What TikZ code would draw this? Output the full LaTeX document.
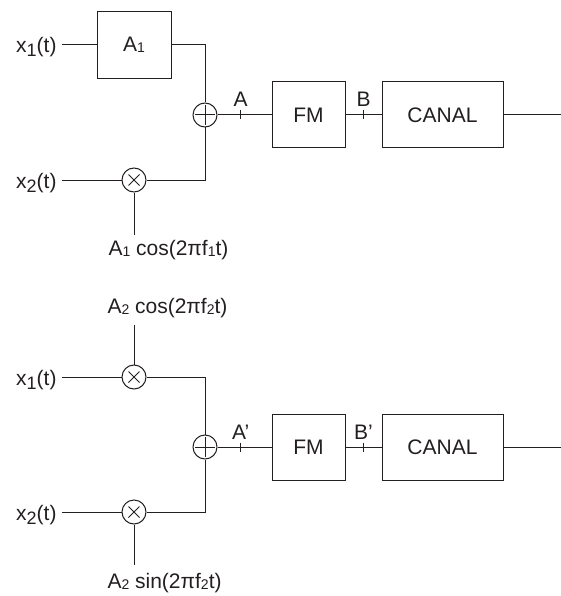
\documentclass[tikz,border=0pt]{standalone}
\usepackage{fontspec}
\setmainfont{Liberation Sans}
\usetikzlibrary{positioning}
\definecolor{ink}{HTML}{231F20}

\newcommand{\bsub}[1]{\raisebox{-4pt}{\fontsize{18}{18}\selectfont #1}}
\newcommand{\ssub}[1]{\raisebox{-1.5pt}{\fontsize{14}{14}\selectfont #1}}

\begin{document}
\begin{tikzpicture}[x=1pt,y=-1pt,line width=1pt,color=ink,
  font=\fontsize{21}{25}\selectfont,
  blk/.style={draw,minimum height=66pt,inner sep=0pt},
  sig/.style={inner sep=0pt},
  adder/.style={draw,circle,minimum size=24pt,inner sep=0pt,
    path picture={\draw ([yshift=-2pt]path picture bounding box.north) -- ([yshift=2pt]path picture bounding box.south)
      ([xshift=2pt]path picture bounding box.west) -- ([xshift=-2pt]path picture bounding box.east);}},
  mixer/.style={draw,circle,minimum size=24pt,inner sep=0pt,
    path picture={\draw ([shift={(-5.5pt,-5.5pt)}]path picture bounding box.center) -- ([shift={(5.5pt,5.5pt)}]path picture bounding box.center)
      ([shift={(-5.5pt,5.5pt)}]path picture bounding box.center) -- ([shift={(5.5pt,-5.5pt)}]path picture bounding box.center);}}]
  \useasboundingbox (0,0) rectangle (561,596);

  % upper branch: gain and mixer
  \node[sig,anchor=base east] (xa1) at (57,53) {x\bsub{1}(t)};
  \node[blk,minimum width=74pt,minimum height=67pt] (gain) at (134,45) {A\ssub{1}};
  \node[sig,anchor=base east] (xa2) at (57,188) {x\bsub{2}(t)};
  \node[mixer] (mix1) at (134,180) {};
  \node[sig,anchor=base west] (car1) at (108,255) {A\ssub{1} cos(2πf\ssub{1}t)};
  \node[adder] (sum1) at (205,115) {};
  \draw ([xshift=5pt]xa1.east |- gain) -- (gain);
  \draw (gain) -- (gain -| sum1) -- (sum1);
  \draw ([xshift=5pt]xa2.east |- mix1) -- (mix1);
  \draw (mix1) -- (mix1 -| sum1) -- (sum1);
  \draw (mix1) -- ([yshift=4pt]mix1 |- car1.north);

  % lower branch: quadrature mixers
  \node[sig,anchor=base west] (car2) at (107,313) {A\ssub{2} cos(2πf\ssub{2}t)};
  \node[sig,anchor=base east] (xb1) at (57,385) {x\bsub{1}(t)};
  \node[mixer] (mix2) at (134,377) {};
  \node[sig,anchor=base east] (xb2) at (57,520) {x\bsub{2}(t)};
  \node[mixer] (mix3) at (134,512) {};
  \node[sig,anchor=base west] (car3) at (107,588) {A\ssub{2} sin(2πf\ssub{2}t)};
  \node[adder] (sum2) at (205,447) {};
  \draw ([xshift=5pt]xb1.east |- mix2) -- (mix2);
  \draw ([xshift=5pt]xb2.east |- mix3) -- (mix3);
  \draw ([yshift=-7pt]mix2 |- car2.south) -- (mix2);
  \draw (mix3) -- ([yshift=7pt]mix3 |- car3.north);
  \draw (mix2) -- (mix2 -| sum2) -- (sum2);
  \draw (mix3) -- (mix3 -| sum2) -- (sum2);

  % modulator and channel
  \foreach \s/\y/\p in {1/115/{},2/447/’} {
    \node[blk,minimum width=73pt] (fm\s) at (308.5,\y) {FM};
    \node[blk,minimum width=121pt] (ch\s) at (442.5,\y) {CANAL};
    \coordinate (out\s) at (561,\y);
    \draw (sum\s) -- (fm\s) coordinate[pos=.43] (tA\s);
    \draw (fm\s) -- (ch\s) coordinate[pos=.5] (tB\s);
    \draw (ch\s) -- (out\s);
    \draw ([yshift=4.5pt]tA\s) -- ([yshift=-4.5pt]tA\s);
    \draw ([yshift=4.5pt]tB\s) -- ([yshift=-4.5pt]tB\s);
    \node[sig,anchor=base] (lA\s) at ([yshift=8pt]tA\s) {A\p};
    \node[sig,anchor=base] (lB\s) at ([yshift=8pt]tB\s) {B\p};
  }
\end{tikzpicture}
\end{document}
